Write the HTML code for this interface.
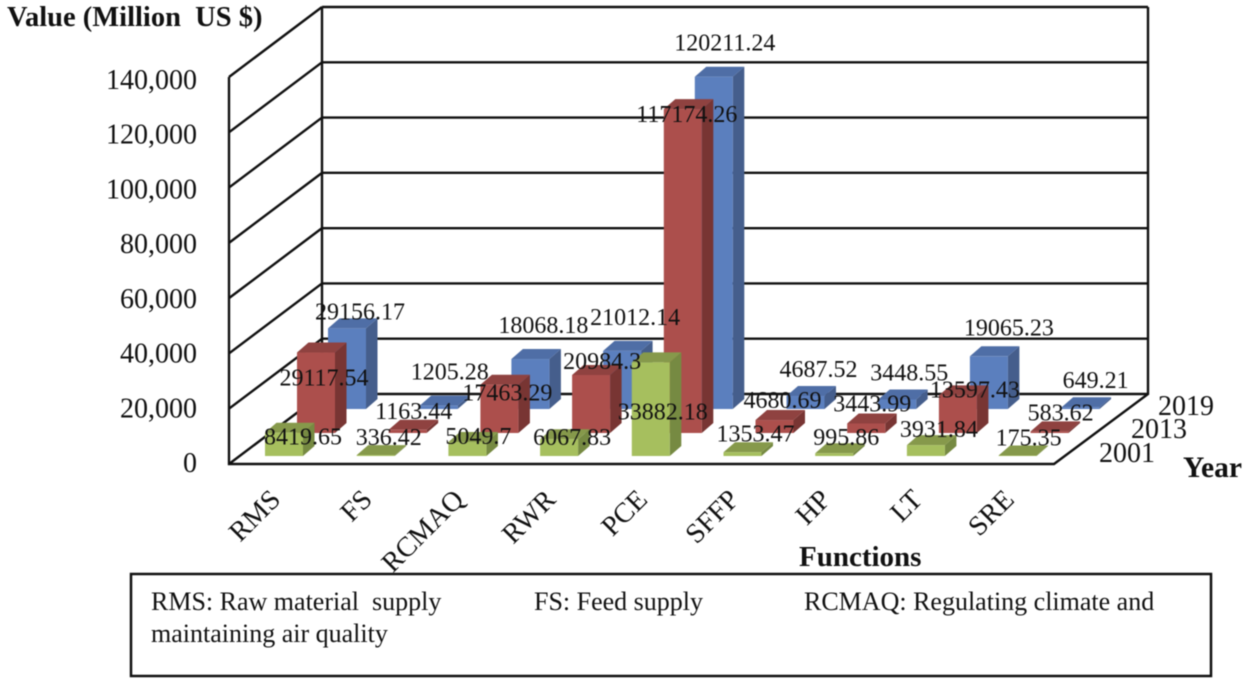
<!DOCTYPE html>
<html lang="en">
<head>
<meta charset="utf-8">
<title>Value of ecosystem functions by year</title>
<style>
html,body{margin:0;padding:0;background:#fff;}
svg{display:block;filter:blur(0.4px);}
text{font-family:"Liberation Serif",serif;fill:#111;}
</style>
</head>
<body>
<svg id="chart" width="1250" height="682" viewBox="0 0 1250 682" xmlns="http://www.w3.org/2000/svg">
<rect x="0" y="0" width="1250" height="682" fill="#fff"/>
<g id="walls"></g>
<g id="bars"></g>
<g id="labels"></g>
<g id="axes"></g>
<text x="7" y="26" font-size="28.5" font-weight="bold" xml:space="preserve">Value (Million  US $)</text>
<text x="799" y="566" font-size="29" font-weight="bold">Functions</text>
<text x="1183" y="477" font-size="29.5" font-weight="bold">Year</text>
<rect x="131" y="574" width="1080" height="102" fill="none" stroke="#111" stroke-width="2.5"/>
<text x="151" y="610" font-size="26" xml:space="preserve">RMS: Raw material  supply</text>
<text x="534" y="610" font-size="26">FS: Feed supply</text>
<text x="804" y="610" font-size="26">RCMAQ: Regulating climate and</text>
<text x="151" y="642" font-size="26">maintaining air quality</text>
</svg>
<script>
const categories = ['RMS','FS','RCMAQ','RWR','PCE','SFFP','HP','LT','SRE'];
const years = ['2001','2013','2019'];
const yTicks = [0,20000,40000,60000,80000,100000,120000,140000];
const yTickLabels = ['0','20,000','40,000','60,000','80,000','100,000','120,000','140,000'];
const values2001 = [8419.65,336.42,5049.7,6067.83,33882.18,1353.47,995.86,3931.84,175.35];
const values2013 = [29117.54,1163.44,17463.29,20984.3,117174.26,4680.69,3443.99,13597.43,583.62];
const values2019 = [29156.17,1205.28,18068.18,21012.14,120211.24,4687.52,3448.55,19065.23,649.21];
const labels2001 = ['8419.65','336.42','5049.7','6067.83','33882.18','1353.47','995.86','3931.84','175.35'];
const labels2013 = ['29117.54','1163.44','17463.29','20984.3','117174.26','4680.69','3443.99','13597.43','583.62'];
const labels2019 = ['29156.17','1205.28','18068.18','21012.14','120211.24','4687.52','3448.55','19065.23','649.21'];

// Layout (not data): where the hand-placed labels sit relative to their bar's top centre
const nudgeX = [[19,13,11,13,12,13,12,13,11],[8,6,8,11,4,8,6,17,11],[13,11,13,13,11,13,12,20,15]];
const nudgeY = [[4,-18,-6,-2,49,-19,-16,-16,-18],[25,-19,8,-14,5,-20,-20,-6,-19],[-17,-34,-34,-34,-34,-27,-27,-29,-27]];

const svgNS = 'http://www.w3.org/2000/svg';
const series = [values2019, values2013, values2001];
const seriesLabels = [labels2019, labels2013, labels2001];
const seriesNudge = [2, 1, 0];
const palettes = [
  {front:'#5b7fbe', side:'#455e8c', top:'#4f6ea6', key:'2019'},
  {front:'#ac4f4c', side:'#783533', top:'#8f4240', key:'2013'},
  {front:'#a6bf5e', side:'#768a42', top:'#86994b', key:'2001'}
];
const frontStart = [328, 297, 265];
const frontBase = [409, 433, 456];
const catStep = 91.7;
const barWidth = 38;
const depthX = 11.5;
const depthY = 10;
const pxPerUnit = 387 / 140000;

function xFront(i, row){ return frontStart[row] + i * catStep; }
function yTop(v, row){ return frontBase[row] - v * pxPerUnit; }
function yFrontWall(v){ return 464 - v * pxPerUnit; }
function yBackWall(v){ return 394 - v * pxPerUnit; }
function yTickLabel(v){ return 472 - v * 383 / 140000; }

function add(parent, tag, attrs){
  const el = document.createElementNS(svgNS, tag);
  for (const k in attrs) el.setAttribute(k, attrs[k]);
  parent.appendChild(el);
  return el;
}

const walls = document.getElementById('walls');
const barsG = document.getElementById('bars');
const labelsG = document.getElementById('labels');
const axesG = document.getElementById('axes');
const gridStroke = {stroke:'#111','stroke-width':2.4,fill:'none'};

yTicks.forEach(function(t, k){
  const back = add(walls, 'line', Object.assign({x1:322,x2:1148,y1:yBackWall(t),y2:yBackWall(t)}, gridStroke));
  
  
  const diag = add(walls, 'line', Object.assign({x1:229,x2:322,y1:yFrontWall(t),y2:yBackWall(t)}, gridStroke));
  
  
  const lab = add(axesG, 'text', {x:197,y:yTickLabel(t),'font-size':28,'text-anchor':'end'});
  lab.textContent = yTickLabels[k];
  
  
});

const wallFrame = add(walls, 'path', Object.assign({
  d:'M229 '+yFrontWall(140000)+'V464H1054L1148 394V'+yBackWall(140000)+'M322 '+yBackWall(140000)+'V394'
}, gridStroke));



series.forEach(function(vals, row){
  const pal = palettes[row];
  vals.forEach(function(v, i){
    const x = xFront(i, row);
    const yt = yTop(v, row);
    const yb = frontBase[row];
    const g = add(barsG, 'g', {});
    
    
    add(g, 'polygon', {fill:pal.side, points:[x+barWidth,yt, x+barWidth+depthX,yt-depthY, x+barWidth+depthX,yb-depthY, x+barWidth,yb].join(' ')});
    add(g, 'polygon', {fill:pal.top, points:[x,yt, x+depthX,yt-depthY, x+barWidth+depthX,yt-depthY, x+barWidth,yt].join(' ')});
    add(g, 'rect', {fill:pal.front, x:x, y:yt, width:barWidth, height:Math.max(yb-yt,0)});
  });
});

series.forEach(function(vals, row){
  const n = seriesNudge[row];
  vals.forEach(function(v, i){
    const t = add(labelsG, 'text', {
      x: xFront(i, row) + barWidth/2 + nudgeX[n][i],
      y: yTop(v, row) + nudgeY[n][i] + 8,
      'font-size': 24,
      'text-anchor': 'middle'
    });
    t.textContent = seriesLabels[row][i];
    
    
  });
});

categories.forEach(function(c, i){
  const x = 282 + i * catStep;
  const y = 501;
  const t = add(axesG, 'text', {x:x, y:y, 'font-size':28, 'text-anchor':'end', transform:'rotate(-45 '+x+' '+y+')'});
  t.textContent = c;
  
  
});

const yearX = [1155, 1187, 1214];
const yearY = [462, 438, 415];
years.forEach(function(yr, k){
  const t = add(axesG, 'text', {x:yearX[k], y:yearY[k], 'font-size':28, 'text-anchor':'end'});
  t.textContent = yr;
  
  
});
</script>
</body>
</html>
